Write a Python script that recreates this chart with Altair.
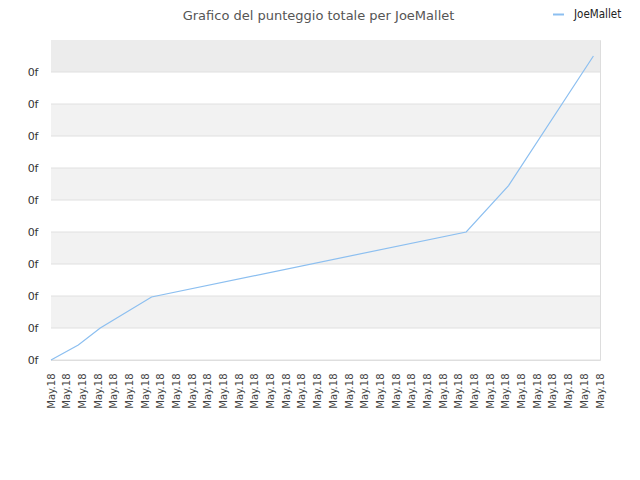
import altair as alt
import pandas as pd

# ---- data ----
series_name = "JoeMallet"
x_points = [0.0, 1.74, 3.14, 6.41, 26.47, 29.17, 34.58]
y_points = [0.0, 0.47, 1.0, 1.97, 4.0, 5.45, 9.5]
x_tick_values = list(range(36))
x_tick_label = "May.18"
y_tick_values = list(range(10))
y_tick_label = "0f"
title_text = "Grafico del punteggio totale per JoeMallet"

line_df = pd.DataFrame({"x": x_points, "y": y_points, "serie": series_name})

band_rows = []
for i in range(10):
    if i == 9:
        c = "#ececec"
    elif i % 2 == 1:
        c = "#f2f2f2"
    else:
        c = "#ffffff"
    band_rows.append({"y": i, "y2": i + 1, "c": c})
band_df = pd.DataFrame(band_rows)
grid_df = pd.DataFrame({"y": y_tick_values})

W, H = 549, 320
xscale = alt.Scale(domain=[0, 35], nice=False, zero=False)
yscale = alt.Scale(domain=[0, 10], nice=False, zero=True)

yaxis = alt.Axis(
    values=y_tick_values,
    labelExpr="'" + y_tick_label + "'",
    ticks=False,
    domain=False,
    grid=False,
    labelPadding=13,
    labelFont="DejaVu Sans",
    labelFontSize=11,
    labelColor="#333333",
)

bands = alt.Chart(band_df).mark_rect().encode(
    y=alt.Y("y:Q", scale=yscale, axis=yaxis, title=None),
    y2="y2:Q",
    fill=alt.Fill("c:N", scale=None, legend=None),
)

grid = alt.Chart(grid_df).mark_rule(color="#e0e0e0", strokeWidth=1).encode(
    y=alt.Y("y:Q", scale=yscale, axis=yaxis, title=None),
)

line = alt.Chart(line_df).mark_line(strokeWidth=1.2).encode(
    x=alt.X(
        "x:Q",
        scale=xscale,
        title=None,
        axis=alt.Axis(
            values=x_tick_values,
            labelExpr="'" + x_tick_label + "'",
            labelAngle=270,
            labelAlign="right",
            labelBaseline="middle",
            labelOverlap=False,
            labelFlush=False,
            labelBound=False,
            ticks=False,
            domain=False,
            grid=False,
            labelPadding=13,
            labelFont="DejaVu Sans",
            labelFontSize=10,
            labelColor="#444444",
        ),
    ),
    y=alt.Y("y:Q", scale=yscale, axis=yaxis, title=None),
    color=alt.Color(
        "serie:N",
        scale=alt.Scale(range=["#8cbff0"]),
        legend=alt.Legend(
            title=None,
            orient="none",
            legendX=501,
            legendY=-32,
            symbolType="stroke",
            symbolStrokeWidth=2,
            symbolSize=120,
            labelOffset=9,
            labelFont="DejaVu Sans Condensed",
            labelFontSize=11.5,
            labelColor="#222222",
            padding=0,
        ),
    ),
)

chart = (
    alt.layer(bands, grid, line)
    .properties(
        width=W,
        height=H,
        autosize=alt.AutoSizeParams(type="none"),
        padding={"left": 43, "top": 32, "right": 32, "bottom": 100},
        title=alt.TitleParams(
            text=title_text,
            anchor="middle",
            frame="group",
            font="DejaVu Sans",
            fontSize=13,
            fontWeight="normal",
            color="#555555",
            dx=-7,
            offset=-15,
        ),
    )
    .configure_view(stroke="#d9d9d9", strokeWidth=1)
    .configure(background="white")
)

chart.save("out.html", embed_options={"renderer": "svg", "actions": False})
